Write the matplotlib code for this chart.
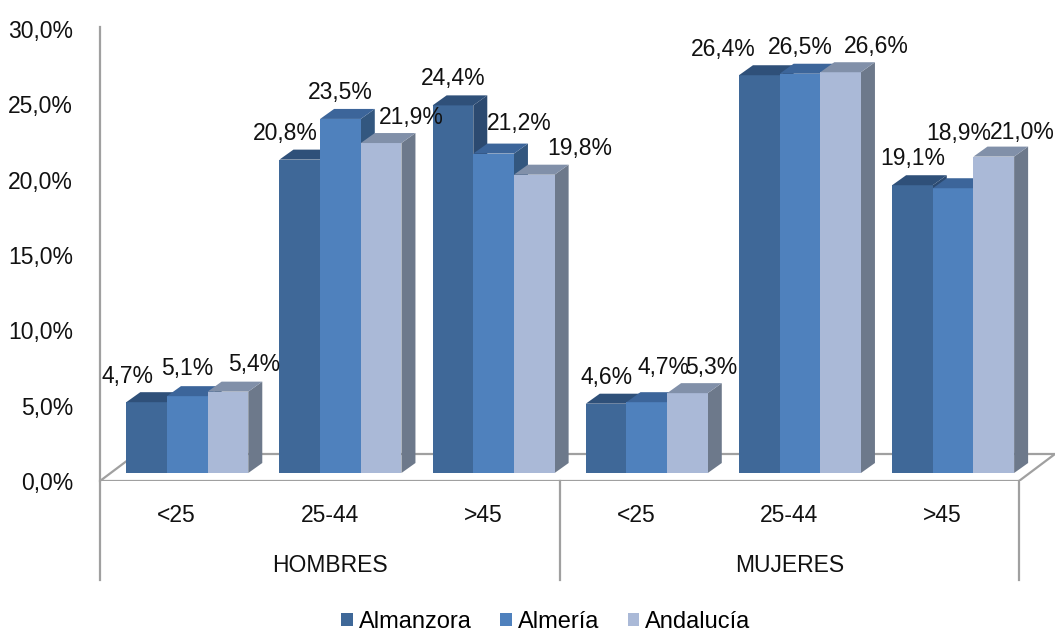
import matplotlib
matplotlib.use("Agg")
import matplotlib.pyplot as plt
from matplotlib import font_manager
from matplotlib.patches import Rectangle, Polygon, Patch

# ---------------- data ----------------
groups = ["HOMBRES", "MUJERES"]
ages = ["<25", "25-44", ">45"]
series = ["Almanzora", "Almería", "Andalucía"]
almanzora = [4.7, 20.8, 24.4, 4.6, 26.4, 19.1]
almeria = [5.1, 23.5, 21.2, 4.7, 26.5, 18.9]
andalucia = [5.4, 21.9, 19.8, 5.3, 26.6, 21.0]
yticks = [0, 5, 10, 15, 20, 25, 30]

# label nudges (pixels) to mimic the reference placement
label_dx = [[-19, 0, 26], [-14, 0, 30], [0, 26, 45],
            [0, 17, 24], [-36, 0, 36], [0, 6, 29]]
label_dy = [[0, 2, 1], [0, 0, 0], [1, 4, 0],
            [0, 9, 0], [0, 0, 0], [1, 29, -2]]

# ---------------- style ----------------
front_cols = ["#3F6898", "#4F81BD", "#AAB9D7"]
top_cols = ["#2F5079", "#3C659A", "#8190A9"]
side_cols = ["#2C4A70", "#33577F", "#6D798B"]
grey = "#A0A0A0"

names = {f.name for f in font_manager.fontManager.ttflist}
if "Liberation Sans Narrow" in names:
    FONT, FS, LFS = "Liberation Sans Narrow", 19.5, 19.5
else:
    FONT, FS, LFS = "Liberation Sans", 16.5, 17

W, H, DPI = 1059, 635, 100
fig = plt.figure(figsize=(W / DPI, H / DPI), dpi=DPI)
plt.rcParams["font.family"] = [FONT, "DejaVu Sans"]

# axes geometry in pixels
x0_px, x1_px = 100, 1055
y0_px, y30_px = 481, 29
ax = fig.add_axes([x0_px / W, 1 - y0_px / H, (x1_px - x0_px) / W, (y0_px - y30_px) / H])
ncat = len(almanzora)
px_per_cat = 919 / ncat
px_per_pct = (y0_px - y30_px) / 30.0
ax.set_xlim(0, (x1_px - x0_px) / px_per_cat)
ax.set_ylim(0, 30)
for s in ax.spines.values():
    s.set_visible(False)
ax.set_xticks([])
ax.set_yticks(yticks)
ax.set_yticklabels([f"{t:.1f}%".replace(".", ",") for t in yticks], fontsize=FS, color="#111111",
                   family=[FONT, "DejaVu Sans"])
ax.tick_params(axis="y", length=0, pad=19.5)
ax.set_facecolor("none")

def px2x(p):
    return p / px_per_cat

def px2y(p):
    return p / px_per_pct

# floor (3D depth)
floor_dx, floor_dy = px2x(36), px2y(27)
floor = Polygon([(0, 0), (ncat, 0), (ncat + floor_dx, floor_dy), (floor_dx, floor_dy)],
                closed=True, facecolor="white", edgecolor=grey, lw=1.6, zorder=1)
ax.add_patch(floor)

# y-axis line & separators
ax.plot([0, 0], [0, 30.15], color=grey, lw=1.6, zorder=2, clip_on=False)
sep_bottom = -px2y(580 - y0_px)
for xs in [0, ncat / 2, ncat]:
    ax.plot([xs, xs], [0, sep_bottom], color=grey, lw=1.6, zorder=2, clip_on=False)

# bars
group_w = 122 / px_per_cat
bw = group_w / 3
fdx, fdy = px2x(10.7), px2y(8)      # front face offset into depth
ddx, ddy = px2x(14), px2y(10)       # bar depth
vals = [almanzora, almeria, andalucia]
z = 3
for i in range(ncat):
    left = i + 0.5 - group_w / 2 + fdx
    for j in range(3):
        v = vals[j][i]
        x = left + j * bw
        b = fdy
        side = Polygon([(x + bw, b), (x + bw + ddx, b + ddy), (x + bw + ddx, b + v + ddy), (x + bw, b + v)],
                       closed=True, facecolor=side_cols[j], edgecolor="none", zorder=z)
        front = Rectangle((x, b), bw, v, facecolor=front_cols[j], edgecolor="none", zorder=z + 1)
        top = Polygon([(x, b + v), (x + bw, b + v), (x + bw + ddx, b + v + ddy), (x + ddx, b + v + ddy)],
                      closed=True, facecolor=top_cols[j], edgecolor="none", zorder=z + 1)
        ax.add_patch(side)
        ax.add_patch(front)
        ax.add_patch(top)
        z += 2
        ax.annotate(f"{v:.1f}%".replace(".", ","), xy=(x + bw / 2, b + v),
                    xytext=(label_dx[i][j], 26 + label_dy[i][j]), textcoords="offset pixels",
                    ha="center", va="center", fontsize=FS, color="#111111", zorder=200,
                    annotation_clip=False)

# category labels
for i in range(ncat):
    ax.text(i + 0.5, -px2y(515 - y0_px), ages[i % 3], ha="center", va="center",
            fontsize=FS, color="#111111", clip_on=False)
for g, name in enumerate(groups):
    ax.text(g * 3 + 1.5, -px2y(565 - y0_px), name, ha="center", va="center",
            fontsize=FS, color="#111111", clip_on=False)

# legend
handles = [Patch(facecolor=front_cols[j], edgecolor="none", label=series[j]) for j in range(3)]
fig.legend(handles=handles, loc="center", bbox_to_anchor=(546 / W, 1 - 622 / H), ncol=3,
           frameon=False, fontsize=LFS, handlelength=0.5, handleheight=0.5,
           handletextpad=0.25, columnspacing=1.2, borderpad=0)

fig.savefig("out.png", dpi=DPI, facecolor="white")
